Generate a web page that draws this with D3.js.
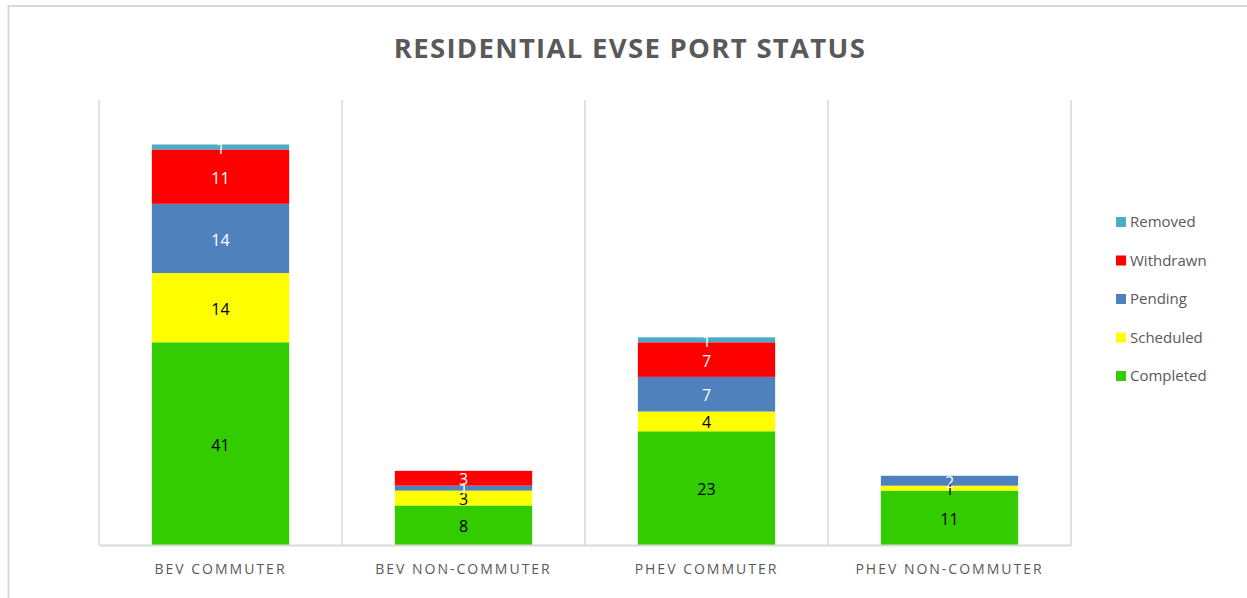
<!DOCTYPE html>
<html>
<head>
<meta charset="utf-8">
<script src="https://cdn.jsdelivr.net/npm/d3@7"></script>
<style>
  body { margin: 0; background: #fff; }
  svg text { font-family: "Open Sans", "DejaVu Sans", sans-serif; }
</style>
</head>
<body>
<svg id="svg"></svg>
<script>
// chart data
const categories = ["BEV COMMUTER", "BEV NON-COMMUTER", "PHEV COMMUTER", "PHEV NON-COMMUTER"];
const seriesNames = ["Completed", "Scheduled", "Pending", "Withdrawn", "Removed"];
const completed = [41, 8, 23, 11];
const scheduled = [14, 3, 4, 1];
const pending   = [14, 1, 7, 2];
const withdrawn = [11, 3, 7, 0];
const removed   = [1, 0, 1, 0];
const colors = ["#33cc00", "#ffff00", "#4f81bd", "#ff0000", "#4bacc6"];
const labelColors = ["#000", "#000", "#fff", "#fff", "#fff"];

const w = 1247, h = 598;
const svg = d3.select("#svg").attr("width", w).attr("height", h);

// outer frame
svg.append("rect")
  .attr("x", 8.5).attr("y", 6)
  .attr("width", w + 10).attr("height", h + 10)
  .attr("fill", "none").attr("stroke", "#d9d9d9").attr("stroke-width", 2);

const plotL = 99, plotR = 1071, plotT = 100, plotB = 545;

const table = categories.map((c, i) => ({
  cat: c,
  Completed: completed[i], Scheduled: scheduled[i], Pending: pending[i],
  Withdrawn: withdrawn[i], Removed: removed[i]
}));
const stacked = d3.stack().keys(seriesNames)(table);

const x = d3.scaleBand().domain(categories).range([plotL, plotR]).padding(0);
const y = d3.scaleLinear().domain([0, 90]).range([plotB, plotT]);
const barW = x.bandwidth() * 0.565;

// vertical separators
const grid = svg.append("g");
grid.selectAll("line")
  .data(categories.map(c => x(c) + x.bandwidth()))
  .enter().append("line")
  .attr("x1", d => d).attr("x2", d => d)
  .attr("y1", plotT).attr("y2", plotB)
  .attr("stroke", "#d9d9d9").attr("stroke-width", 1.5);
grid.append("line")
  .attr("x1", plotL).attr("x2", plotL).attr("y1", plotT).attr("y2", plotB)
  .attr("stroke", "#d9d9d9").attr("stroke-width", 1.5);

// bars
const layers = svg.selectAll("g.layer")
  .data(stacked)
  .enter().append("g").attr("class", "layer")
  .attr("fill", (d, i) => colors[i]);

layers.selectAll("rect")
  .data(d => d)
  .enter().append("rect")
  .attr("x", d => x(d.data.cat) + (x.bandwidth() - barW) / 2)
  .attr("y", d => y(d[1]))
  .attr("width", barW)
  .attr("height", d => y(d[0]) - y(d[1]));

// value labels
stacked.forEach((s, si) => {
  svg.append("g").selectAll("text")
    .data(s.filter(d => d[1] - d[0] > 0))
    .enter().append("text")
    .attr("x", d => x(d.data.cat) + x.bandwidth() / 2)
    .attr("y", d => (y(d[0]) + y(d[1])) / 2 + 1.5)
    .attr("dy", "0.35em")
    .attr("text-anchor", "middle")
    .attr("fill", labelColors[si])
    .style("font-family", "'Liberation Sans Narrow', 'Open Sans', sans-serif")
    .style("font-size", "16px")
    .text(d => d[1] - d[0]);
});

// x axis
const xAxis = svg.append("g")
  .attr("transform", "translate(0," + plotB + ")")
  .call(d3.axisBottom(x).tickSize(0).tickPadding(19));
xAxis.select(".domain").attr("stroke", "#d9d9d9").attr("stroke-width", 2);
xAxis.selectAll("text")
  .attr("fill", "#595959")
  .style("font-family", "'Open Sans', sans-serif")
  .style("font-size", "14px")
  .style("letter-spacing", "2px");

// title
svg.append("text")
  .attr("x", 630).attr("y", 58)
  .attr("text-anchor", "middle")
  .attr("fill", "#595959")
  .style("font-size", "27.5px")
  .style("font-weight", "bold")
  .style("letter-spacing", "1.3px")
  .text("RESIDENTIAL EVSE PORT STATUS");

// legend (reverse order, top to bottom)
const legendOrder = seriesNames.slice().reverse();
const legend = svg.append("g").selectAll("g")
  .data(legendOrder)
  .enter().append("g")
  .attr("transform", (d, i) => "translate(1116," + (222 + i * 38.5) + ")");
legend.append("rect")
  .attr("x", 0).attr("y", -5).attr("width", 10).attr("height", 10)
  .attr("fill", d => colors[seriesNames.indexOf(d)]);
legend.append("text")
  .attr("x", 14).attr("y", 0).attr("dy", "0.35em")
  .attr("fill", "#595959")
  .style("font-size", "15px")
  .text(d => d);
</script>
</body>
</html>
